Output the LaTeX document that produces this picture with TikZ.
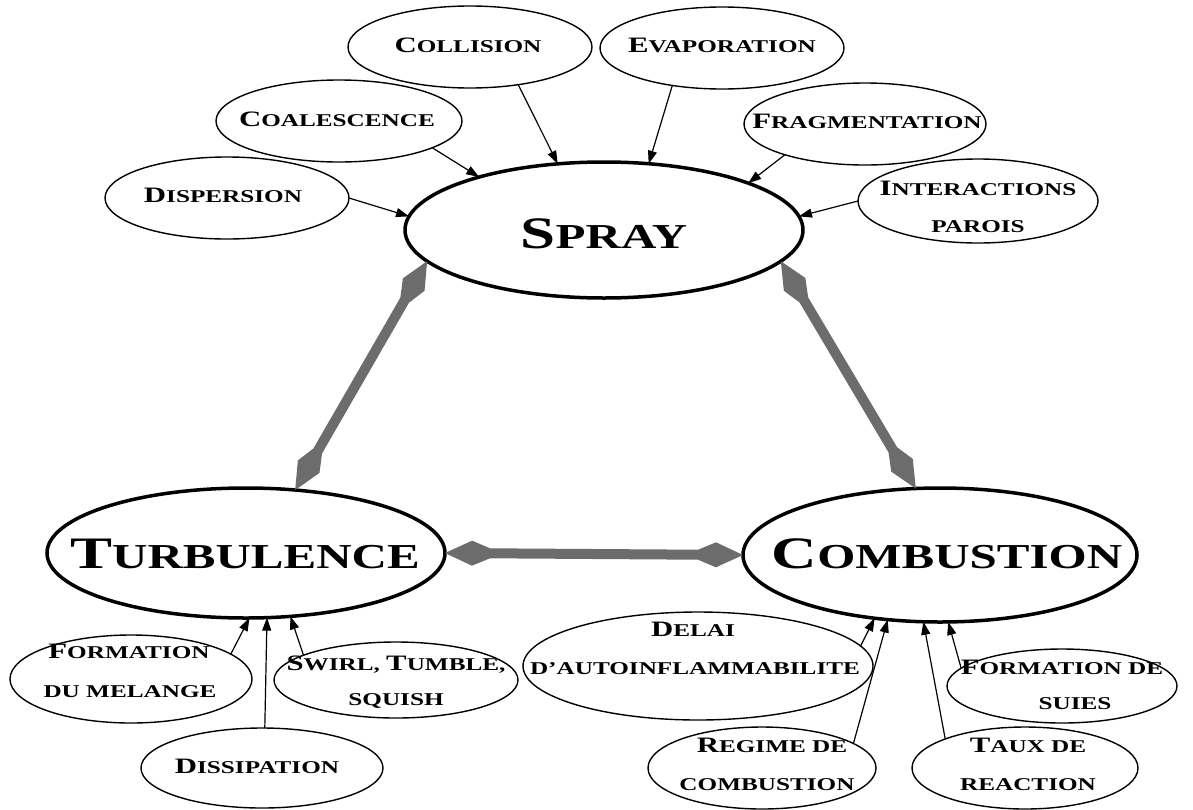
\documentclass[tikz,border=0pt]{standalone}
\usepackage{fontspec}
\usetikzlibrary{shapes.geometric,arrows.meta,calc}
\newfontfamily\lblfont[FakeStretch=1.4]{Liberation Serif}
\newcommand\Bsc[2]{{\fontsize{45}{45}\selectfont #1}{\fontsize{35}{35}\selectfont #2}}
\newcommand\Ssc[2]{{\fontsize{22}{22}\selectfont #1}{\fontsize{18}{18}\selectfont #2}}
\definecolor{connc}{RGB}{108,108,108}
\newcommand\dlink[2]{%
  \fill[connc] (#1)
   -- ($(#1)!27pt!(#2)!12.5pt!90:(#2)$)
   -- ($(#1)!45pt!(#2)!5pt!90:(#2)$)
   -- ($(#2)!45pt!(#1)!5pt!-90:(#1)$)
   -- ($(#2)!27pt!(#1)!12.5pt!-90:(#1)$)
   -- (#2)
   -- ($(#2)!27pt!(#1)!12.5pt!90:(#1)$)
   -- ($(#2)!45pt!(#1)!5pt!90:(#1)$)
   -- ($(#1)!45pt!(#2)!5pt!-90:(#2)$)
   -- ($(#1)!27pt!(#2)!12.5pt!-90:(#2)$)
   -- cycle;}
\tikzset{
  bigell/.style={ellipse, draw, line width=3.5pt, inner sep=0pt, outer sep=0pt},
  smell/.style={ellipse, draw, line width=1.4pt, inner sep=0pt, outer sep=0pt},
  lbl/.style={inner sep=0pt, anchor=base, font=\lblfont\bfseries},
  arr/.style={-{Triangle[length=13pt,width=9pt]}, line width=1.2pt},
}
\begin{document}
\begin{tikzpicture}[x=1pt,y=-1pt]
\fill[white] (0,0) rectangle (1193,809);
\useasboundingbox (0,0) rectangle (1193,809);

% main ellipses
\node[bigell, minimum width=398pt, minimum height=136pt] (spray) at (604,230) {};
\node[bigell, minimum width=398pt, minimum height=130pt] (turb) at (246,553) {};
\node[bigell, minimum width=394pt, minimum height=134pt] (comb) at (940,555) {};

% small ellipses (top)
\node[smell, minimum width=244pt, minimum height=82pt] (coll) at (470,47) {};
\node[smell, minimum width=244pt, minimum height=82pt] (evap) at (722,48) {};
\node[smell, minimum width=246pt, minimum height=82pt] (coal) at (339,121) {};
\node[smell, minimum width=242pt, minimum height=82pt] (frag) at (865,124) {};
\node[smell, minimum width=244pt, minimum height=82pt] (disp) at (227,198) {};
\node[smell, minimum width=240pt, minimum height=84pt] (inter) at (978,201) {};

% small ellipses (bottom)
\node[smell, minimum width=242pt, minimum height=88pt] (fdm) at (131,679) {};
\node[smell, minimum width=244pt, minimum height=76pt] (swirl) at (396,680) {};
\node[smell, minimum width=242pt, minimum height=80pt] (diss) at (262,768) {};
\node[smell, minimum width=350pt, minimum height=108pt] (delai) at (698,666) {};
\node[smell, minimum width=228pt, minimum height=82pt] (regime) at (762,768) {};
\node[smell, minimum width=226pt, minimum height=82pt] (taux) at (1025,768) {};
\node[smell, minimum width=230pt, minimum height=74pt] (fds) at (1062,686) {};

% gray double-diamond connectors
\dlink{spray.190}{turb.52}
\dlink{spray.-10}{comb.110}
\dlink{turb.east}{comb.west}

% arrows into SPRAY
\draw[arr] (coll.-38) -- (spray.125);
\draw[arr] (coal.-16) -- (spray.157);
\draw[arr] (disp.0) -- (spray.176);
\draw[arr] (evap.217) -- (spray.56);
\draw[arr] (frag.201) -- (spray.18);
\draw[arr] (inter.180) -- (spray.4);

% arrows into TURBULENCE
\draw[arr] (fdm.14) -- (turb.-87);
\draw[arr] (diss.86) -- (turb.-72);
\draw[arr] (swirl.165) -- (turb.-55);

% arrows into COMBUSTION
\draw[arr] (delai.7) -- (comb.-136);
\draw[arr] (regime.15) -- (comb.-129);
\draw[arr] (taux.160) -- (comb.-104);
\draw[arr] (fds.170) -- (comb.-83);

% labels
\node[lbl] (tspray) at (604,248) {\Bsc{S}{PRAY}};
\node[lbl] (tturb) at (245,568) {\Bsc{T}{URBULENCE}};
\node[lbl] (tcomb) at (947,568) {\Bsc{C}{OMBUSTION}};

\node[lbl] (tcoll) at (468,52) {\Ssc{C}{OLLISION}};
\node[lbl] (tevap) at (722,52) {\Ssc{E}{VAPORATION}};
\node[lbl] (tcoal) at (337,126) {\Ssc{C}{OALESCENCE}};
\node[lbl] (tfrag) at (867,128) {\Ssc{F}{RAGMENTATION}};
\node[lbl] (tdisp) at (223,202) {\Ssc{D}{ISPERSION}};
\node[lbl] (tinter1) at (978,195) {\Ssc{I}{NTERACTIONS}};
\node[lbl] (tinter2) at (978,232) {\Ssc{}{PAROIS}};

\node[lbl] (tfdm1) at (129,658) {\Ssc{F}{ORMATION}};
\node[lbl] (tfdm2) at (130,697) {\Ssc{}{DU MELANGE}};
\node[lbl] (tswirl1) at (396,670) {\Ssc{S}{WIRL, }\Ssc{T}{UMBLE,}};
\node[lbl] (tswirl2) at (396,705) {\Ssc{}{SQUISH}};
\node[lbl] (tdiss) at (257,773) {\Ssc{D}{ISSIPATION}};

\node[lbl] (tdelai1) at (693,636) {\Ssc{D}{ELAI}};
\node[lbl] (tdelai2) at (695,674) {\Ssc{}{D’AUTOINFLAMMABILITE}};
\node[lbl] (tregime1) at (772,752) {\Ssc{R}{EGIME DE}};
\node[lbl] (tregime2) at (767,790) {\Ssc{}{COMBUSTION}};
\node[lbl] (ttaux1) at (1028,752) {\Ssc{T}{AUX DE}};
\node[lbl] (ttaux2) at (1028,790) {\Ssc{}{REACTION}};
\node[lbl] (tfds1) at (1062,674) {\Ssc{F}{ORMATION DE}};
\node[lbl] (tfds2) at (1075,709) {\Ssc{}{SUIES}};
\end{tikzpicture}
\end{document}
